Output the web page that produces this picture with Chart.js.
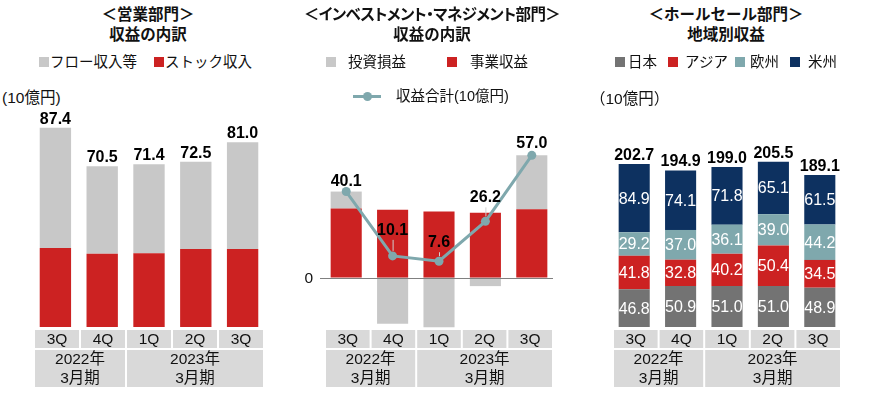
<!DOCTYPE html>
<html lang="ja">
<head>
<meta charset="utf-8">
<script src="https://cdn.jsdelivr.net/npm/chart.js@4"></script>
<style>
  body { margin:0; width:880px; height:398px; position:relative; background:#fff; overflow:hidden;
         font-family:"Liberation Sans","Noto Sans CJK JP",sans-serif; color:#111; }
  canvas { position:absolute; top:0; }
  .t   { position:absolute; text-align:center; font-weight:bold; font-size:15.5px; line-height:20px; white-space:nowrap; }
  .lg  { position:absolute; font-size:14.5px; line-height:16px; white-space:nowrap; }
  .sq  { position:absolute; width:10px; height:10px; }
  .unit{ position:absolute; font-size:15.5px; line-height:16px; white-space:nowrap; }
</style>
</head>
<body>

<!-- 営業部門 -->
<div class="t" style="left:0;width:296px;top:5px">＜営業部門＞<br>収益の内訳</div>
<div class="sq" style="left:39px;top:57px;background:#c8c8c8"></div>
<div class="lg" style="left:50px;top:54px">フロー収入等</div>
<div class="sq" style="left:154px;top:57px;background:#cc2222"></div>
<div class="lg" style="left:165px;top:54px">ストック収入</div>
<div class="unit" style="left:2px;top:90px">(10億円)</div>
<canvas id="salesChart" width="290" height="398" style="left:0"></canvas>

<!-- インベストメント・マネジメント部門 -->
<div class="t" style="left:282px;width:300px;top:5px"><span style="font-feature-settings:'palt';letter-spacing:-0.6px">＜インベストメント・マネジメント部門＞</span><br>収益の内訳</div>
<div class="sq" style="left:326px;top:57px;background:#c8c8c8"></div>
<div class="lg" style="left:348px;top:54px">投資損益</div>
<div class="sq" style="left:447px;top:57px;background:#cc2222"></div>
<div class="lg" style="left:470px;top:54px">事業収益</div>
<div style="position:absolute;left:353px;top:95px;width:28px;height:3px;background:#7fa8ad"></div>
<div style="position:absolute;left:363px;top:92px;width:9px;height:9px;border-radius:50%;background:#7fa8ad"></div>
<div class="lg" style="left:396px;top:88px">収益合計(10億円)</div>
<canvas id="imChart" width="300" height="398" style="left:290px"></canvas>

<!-- ホールセール部門 -->
<div class="t" style="left:590px;width:272px;top:5px">＜ホールセール部門＞<br>地域別収益</div>
<div class="sq" style="left:615px;top:57px;background:#737373"></div>
<div class="lg" style="left:628px;top:54px">日本</div>
<div class="sq" style="left:668px;top:57px;background:#cc2222"></div>
<div class="lg" style="left:685px;top:54px">アジア</div>
<div class="sq" style="left:735px;top:57px;background:#7fa8ad"></div>
<div class="lg" style="left:750px;top:54px">欧州</div>
<div class="sq" style="left:790px;top:57px;background:#0d3160"></div>
<div class="lg" style="left:808px;top:54px">米州</div>
<div class="unit" style="left:590px;top:91px">（10億円）</div>
<canvas id="wsChart" width="290" height="398" style="left:590px"></canvas>

<script>
'use strict';

/* ── Data ── */
const quarters    = ['3Q', '4Q', '1Q', '2Q', '3Q'];
const fiscalYears = ['2022年', '2023年'];
const fiscalSpans = [[0, 1], [2, 4]];   // quarter index range of each fiscal year
const fiscalTail  = '3月期';

// 営業部門
const salesFlow  = [52.7, 38.4, 39.0, 38.3, 46.8];
const salesStock = [34.7, 32.1, 32.4, 34.2, 34.2];
const salesTotal = [87.4, 70.5, 71.4, 72.5, 81.0];

// インベストメント・マネジメント部門
const imInvest   = [7.9, -21.5, -23.2, -4.0, 25.2];
const imBusiness = [32.2, 31.6, 30.8, 30.2, 31.8];
const imTotal    = [40.1, 10.1, 7.6, 26.2, 57.0];

// ホールセール部門
const wsJapan    = [46.8, 50.9, 51.0, 51.0, 48.9];
const wsAsia     = [41.8, 32.8, 40.2, 50.4, 34.5];
const wsEurope   = [29.2, 37.0, 36.1, 39.0, 44.2];
const wsAmericas = [84.9, 74.1, 71.8, 65.1, 61.5];
const wsTotal    = [202.7, 194.9, 199.0, 205.5, 189.1];

/* ── Styles ── */
const FONT = '"Liberation Sans","Noto Sans CJK JP",sans-serif';
const COL = { light:'#c8c8c8', red:'#cc2222', teal:'#7fa8ad', navy:'#0d3160', dark:'#737373', box:'#d9d9d9' };
Chart.defaults.font.family = FONT;

/* ── Plugins ── */
// grey quarter / fiscal-year boxes under the plot
const quarterBoxes = {
  id: 'quarterBoxes',
  afterDraw(chart) {
    const { ctx, chartArea: a } = chart;
    const inset = 2;
    const w = (a.right - a.left - inset * 2) / quarters.length;
    const x0 = a.left + inset;
    ctx.save();
    ctx.font = `15.5px ${FONT}`;
    ctx.textAlign = 'center';
    ctx.textBaseline = 'middle';
    quarters.forEach((q, i) => {
      ctx.fillStyle = COL.box;
      ctx.fillRect(x0 + i * w + 1, 330, w - 2, 18);
      ctx.fillStyle = '#111';
      ctx.fillText(q, x0 + (i + 0.5) * w, 340);
    });
    fiscalSpans.forEach(([s, e], k) => {
      const left = x0 + s * w + 1, width = (e - s + 1) * w - 2;
      ctx.fillStyle = COL.box;
      ctx.fillRect(left, 350, width, 37);
      ctx.fillStyle = '#111';
      ctx.fillText(fiscalYears[k], left + width / 2, 360);
      ctx.fillText(fiscalTail, left + width / 2, 379);
    });
    ctx.restore();
  }
};

function stackTotals(values, topIndex) {
  return {
    id: 'stackTotals',
    afterDatasetsDraw(chart) {
      const { ctx } = chart;
      ctx.save();
      ctx.font = `bold 16px ${FONT}`;
      ctx.fillStyle = '#000';
      ctx.textAlign = 'center';
      ctx.textBaseline = 'alphabetic';
      chart.getDatasetMeta(topIndex).data.forEach((bar, i) => {
        ctx.fillText(values[i].toFixed(1), bar.x, bar.y - 4);
      });
      ctx.restore();
    }
  };
}

const segmentLabels = {
  id: 'segmentLabels',
  afterDatasetsDraw(chart) {
    const { ctx } = chart;
    ctx.save();
    ctx.font = `16px ${FONT}`;
    ctx.fillStyle = '#fff';
    ctx.textAlign = 'center';
    ctx.textBaseline = 'middle';
    chart.data.datasets.forEach((ds, d) => {
      chart.getDatasetMeta(d).data.forEach((bar, i) => {
        ctx.fillText(ds.data[i].toFixed(1), bar.x, (bar.y + bar.base) / 2 + 1);
      });
    });
    ctx.restore();
  }
};

// zero line, "0" tick and line-series labels for the IM panel
const lineLabelLift = [6, 21, 14, 19, 7];
const imExtras = {
  id: 'imExtras',
  afterDatasetsDraw(chart) {
    const { ctx, chartArea: a, scales: { y } } = chart;
    const y0 = Math.round(y.getPixelForValue(0)) + 0.5;
    ctx.save();
    ctx.strokeStyle = '#808080';
    ctx.lineWidth = 1;
    ctx.beginPath();
    ctx.moveTo(a.left - 3, y0);
    ctx.lineTo(a.right - 2, y0);
    ctx.stroke();
    ctx.font = `15.5px ${FONT}`;
    ctx.fillStyle = '#111';
    ctx.textAlign = 'right';
    ctx.textBaseline = 'middle';
    ctx.fillText('0', a.left - 10, y0);

    const pts = chart.getDatasetMeta(0).data;
    ctx.font = `bold 16px ${FONT}`;
    ctx.fillStyle = '#000';
    ctx.textAlign = 'center';
    ctx.textBaseline = 'alphabetic';
    ctx.strokeStyle = '#d0d0d0';
    pts.forEach((p, i) => {
      const lift = lineLabelLift[i];
      if (lift > 10) {
        ctx.beginPath();
        ctx.moveTo(p.x + 0.5, p.y - lift + 5);
        ctx.lineTo(p.x + 0.5, p.y - 5);
        ctx.stroke();
      }
      ctx.fillText(imTotal[i].toFixed(1), p.x, p.y - lift);
    });
    ctx.restore();
  }
};

function baseOptions(padding, min, max) {
  return {
    responsive: false,
    animation: false,
    layout: { padding },
    plugins: { legend: { display: false }, tooltip: { enabled: false } },
    scales: {
      x: { display: false, stacked: true },
      y: { display: false, stacked: true, min, max }
    }
  };
}

const barStyle = { barPercentage: 0.67, categoryPercentage: 1, borderWidth: 0 };

/* ── 営業部門 ── */
new Chart(document.getElementById('salesChart'), {
  type: 'bar',
  data: {
    labels: quarters,
    datasets: [
      { label: 'ストック収入', data: salesStock, backgroundColor: COL.red, ...barStyle },
      { label: 'フロー収入等', data: salesFlow, backgroundColor: COL.light, ...barStyle }
    ]
  },
  options: baseOptions({ left: 32, right: 24, top: 99, bottom: 71 }, 0, 100),
  plugins: [quarterBoxes, stackTotals(salesTotal, 1)]
});

/* ── インベストメント・マネジメント部門 ── */
new Chart(document.getElementById('imChart'), {
  type: 'bar',
  data: {
    labels: quarters,
    datasets: [
      { type: 'line', label: '収益合計', data: imTotal, stack: 'sum', order: 0,
        borderColor: COL.teal, backgroundColor: COL.teal, borderWidth: 3,
        pointRadius: 4.5, pointBorderWidth: 0, tension: 0 },
      { label: '事業収益', data: imBusiness, stack: 'im', order: 1, backgroundColor: COL.red, ...barStyle },
      { label: '投資損益', data: imInvest, stack: 'im', order: 1, backgroundColor: COL.light, ...barStyle }
    ]
  },
  options: baseOptions({ left: 33, right: 35, top: 106, bottom: 69 }, -24, 80),
  plugins: [quarterBoxes, imExtras]
});

/* ── ホールセール部門 ── */
new Chart(document.getElementById('wsChart'), {
  type: 'bar',
  data: {
    labels: quarters,
    datasets: [
      { label: '日本', data: wsJapan, backgroundColor: COL.dark, ...barStyle },
      { label: 'アジア', data: wsAsia, backgroundColor: COL.red, ...barStyle },
      { label: '欧州', data: wsEurope, backgroundColor: COL.teal, ...barStyle },
      { label: '米州', data: wsAmericas, backgroundColor: COL.navy, ...barStyle }
    ]
  },
  options: baseOptions({ left: 21, right: 37, top: 126, bottom: 71 }, 0, 250),
  plugins: [quarterBoxes, segmentLabels, stackTotals(wsTotal, 3)]
});
</script>
</body>
</html>
